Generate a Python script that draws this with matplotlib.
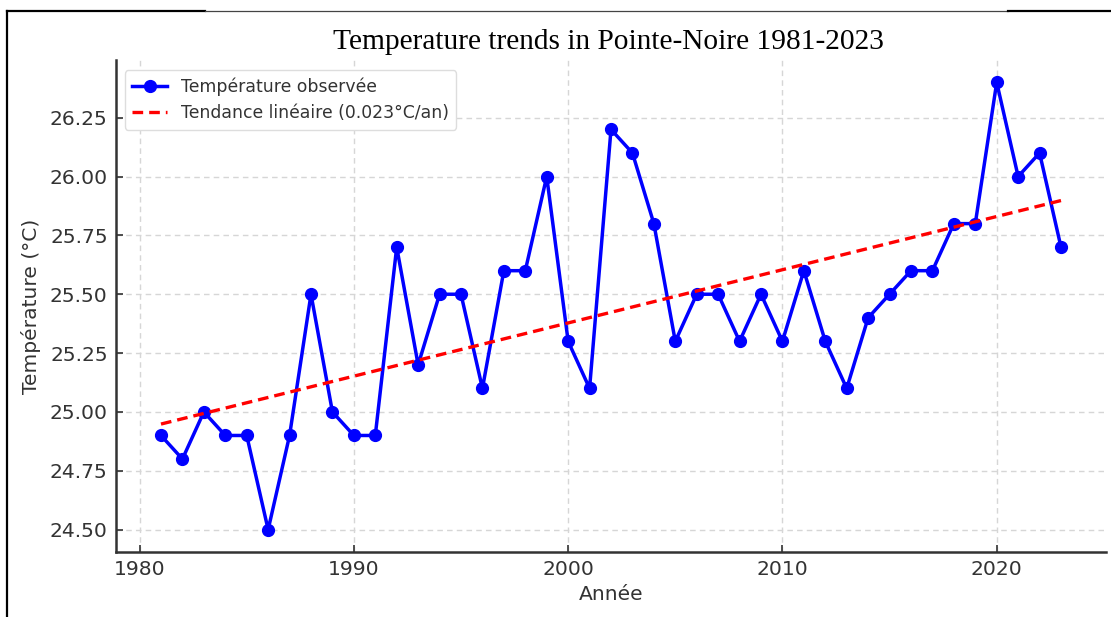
import numpy as np
import matplotlib
matplotlib.use("Agg")
import matplotlib.pyplot as plt
from matplotlib.lines import Line2D

# Annual mean temperature, Pointe-Noire
years = list(range(1981, 2024))
temps = [24.9, 24.8, 25.0, 24.9, 24.9, 24.5, 24.9, 25.5, 25.0, 24.9,
         24.9, 25.7, 25.2, 25.5, 25.5, 25.1, 25.6, 25.6, 26.0, 25.3,
         25.1, 26.2, 26.1, 25.8, 25.3, 25.5, 25.5, 25.3, 25.5, 25.3,
         25.6, 25.3, 25.1, 25.4, 25.5, 25.6, 25.6, 25.8, 25.8, 26.4,
         26.0, 26.1, 25.7]

title = "Temperature trends in Pointe-Noire 1981-2023"
xlabel = "Année"
ylabel = "Température (°C)"
yticks = [24.50, 24.75, 25.00, 25.25, 25.50, 25.75, 26.00, 26.25]

x = np.array(years, dtype=float)
y = np.array(temps, dtype=float)
slope, intercept = np.polyfit(x, y, 1)
trend = slope * x + intercept

text_col = "#333333"
fig = plt.figure(figsize=(11.11, 6.17), dpi=100)
ax = fig.add_axes([116 / 1111, 65 / 617, 990 / 1111, 492 / 617])

ax.plot(x, y, color="blue", marker="o", linewidth=2.5, markersize=8.5,
        label="Température observée", zorder=3)
ax.plot(x, trend, color="red", linestyle="--", linewidth=2.4,
        dashes=(3.2, 1.8), label=f"Tendance linéaire ({slope:.3f}°C/an)",
        zorder=4)

ax.set_yticks(yticks)
ax.set_yticklabels([f"{v:.2f}" for v in yticks])
ax.grid(True, linestyle=(0, (4, 3)), color="#d6d6d6", linewidth=1.0)
ax.set_axisbelow(True)

for side in ("top", "right"):
    ax.spines[side].set_visible(False)
for side in ("left", "bottom"):
    ax.spines[side].set_color(text_col)
    ax.spines[side].set_linewidth(1.8)

ax.tick_params(direction="in", length=5, width=1.2, colors=text_col,
               labelsize=14.6, pad=6)
ax.set_xlabel(xlabel, fontsize=14.6, color=text_col, labelpad=4)
ax.set_ylabel(ylabel, fontsize=14.6, color=text_col, labelpad=6)

leg = ax.legend(loc="upper left", fontsize=12.4, frameon=True,
                fancybox=True, framealpha=1.0, edgecolor="#dddddd",
                borderpad=0.45, handlelength=2.0, labelspacing=0.45,
                bbox_to_anchor=(0.0, 0.997))
for t in leg.get_texts():
    t.set_color(text_col)

fig.text(608 / 1111, 1 - 42 / 617, title, ha="center", va="center",
         fontsize=21.2, family="Liberation Serif", color="black")

# page frame around the figure
fig.add_artist(Line2D([7 / 1111, 7 / 1111], [0, 1 - 11 / 617],
                      color="black", linewidth=1.6,
                      transform=fig.transFigure))
fig.add_artist(Line2D([7 / 1111, 205 / 1111], [1 - 11 / 617, 1 - 11 / 617],
                      color="black", linewidth=1.6,
                      transform=fig.transFigure))
fig.add_artist(Line2D([205 / 1111, 1008 / 1111], [1 - 11 / 617, 1 - 11 / 617],
                      color="#444444", linewidth=0.9,
                      transform=fig.transFigure))
fig.add_artist(Line2D([1008 / 1111, 1.0], [1 - 11 / 617, 1 - 11 / 617],
                      color="black", linewidth=1.6,
                      transform=fig.transFigure))

fig.savefig("out.png", dpi=100)
